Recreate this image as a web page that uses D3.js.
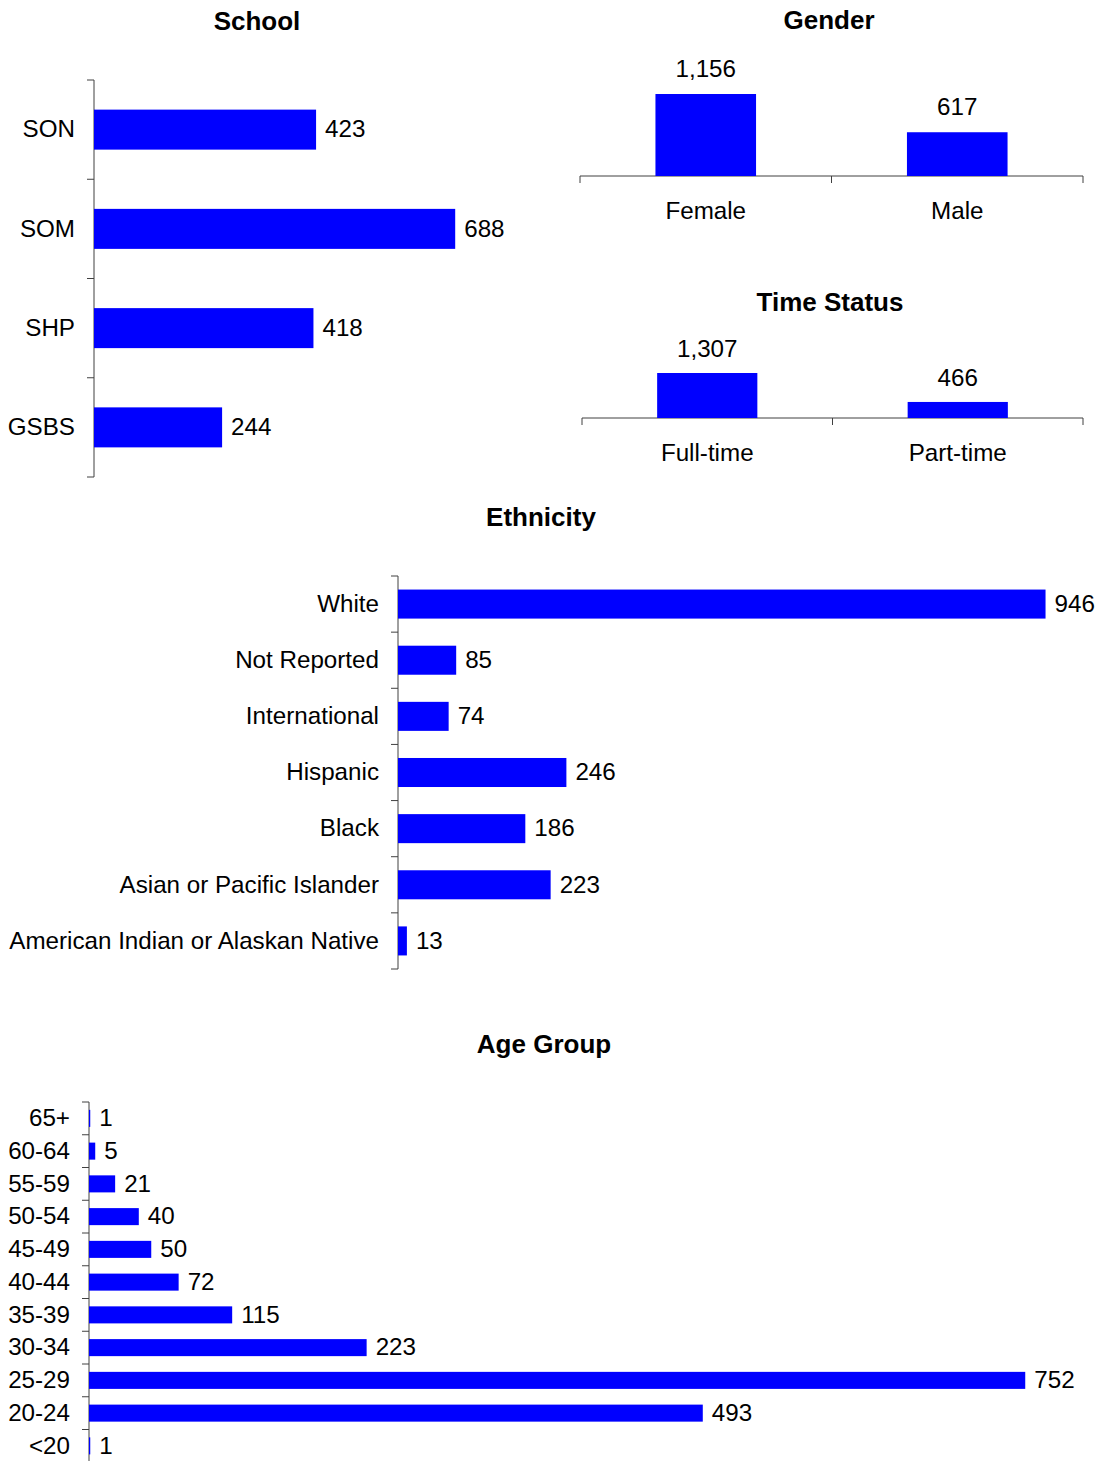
<!DOCTYPE html>
<html>
<head>
<meta charset="utf-8">
<script src="https://cdn.jsdelivr.net/npm/d3@7"></script>
<style>
  body { margin: 0; background: #fff; }
  svg text { font-family: "Liberation Sans", Arial, sans-serif; fill: #000; }
  .title { font-weight: bold; font-size: 26px; }
  .lbl { font-size: 24.2px; }
</style>
</head>
<body>
<svg id="chart" width="1099" height="1461"></svg>
<script>
// --- data ---
const schoolCats = ['SON', 'SOM', 'SHP', 'GSBS'];
const schoolVals = [423, 688, 418, 244];

const genderCats = ['Female', 'Male'];
const genderVals = [1156, 617];

const timeCats = ['Full-time', 'Part-time'];
const timeVals = [1307, 466];

const ethCats = ['White', 'Not Reported', 'International', 'Hispanic', 'Black',
                 'Asian or Pacific Islander', 'American Indian or Alaskan Native'];
const ethVals = [946, 85, 74, 246, 186, 223, 13];

const ageCats = ['65+', '60-64', '55-59', '50-54', '45-49', '40-44', '35-39',
                 '30-34', '25-29', '20-24', '<20'];
const ageVals = [1, 5, 21, 40, 50, 72, 115, 223, 752, 493, 1];

const svg = d3.select('#chart');
const axisColor = '#404040';
const fmt = d3.format(',');

function title(text, x, y) {
    svg.append('text').attr('class', 'title')
        .attr('x', x).attr('y', y).attr('text-anchor', 'middle').text(text);
}

// horizontal bar chart, categories on a left axis with ticks between bands
function hbar(cats, vals, o) {
    const g = svg.append('g');
    const y = d3.scaleBand().domain(cats).range([o.top, o.bottom])
        .paddingInner(o.pad).paddingOuter(o.pad / 2);
    const x = d3.scaleLinear().domain([0, o.max]).range([o.x0, o.x1]);

    // axis line + boundary ticks
    g.append('line').attr('x1', o.x0).attr('x2', o.x0)
        .attr('y1', o.top).attr('y2', o.bottom)
        .attr('stroke', axisColor);
    const bounds = d3.range(cats.length + 1).map(i => o.top + i * y.step());
    g.selectAll('.tk').data(bounds).enter().append('line')
        .attr('x1', o.x0 - 7).attr('x2', o.x0)
        .attr('y1', d => d).attr('y2', d => d)
        .attr('stroke', axisColor);

    g.selectAll('.bar').data(cats).enter().append('rect')
        .attr('x', x(0))
        .attr('y', d => y(d))
        .attr('width', (d, i) => x(vals[i]) - x(0))
        .attr('height', y.bandwidth())
        .attr('fill', '#0000ff');

    g.selectAll('.val').data(cats).enter().append('text').attr('class', 'lbl')
        .attr('x', (d, i) => x(vals[i]) + 9)
        .attr('y', d => y(d) + y.bandwidth() / 2)
        .attr('dy', '0.32em')
        .text((d, i) => fmt(vals[i]));

    g.selectAll('.cat').data(cats).enter().append('text').attr('class', 'lbl')
        .attr('x', o.x0 - 19)
        .attr('y', d => y(d) + y.bandwidth() / 2)
        .attr('dy', '0.32em')
        .attr('text-anchor', 'end')
        .text(d => d);
}

// vertical bar chart with a bottom axis, ticks between bands
function vbar(cats, vals, o) {
    const g = svg.append('g');
    const x = d3.scaleBand().domain(cats).range([o.x0, o.x1])
        .paddingInner(o.pad).paddingOuter(o.pad / 2);
    const y = d3.scaleLinear().domain([0, o.max]).range([o.base, o.base - o.h]);

    g.append('line').attr('x1', o.x0).attr('x2', o.x1)
        .attr('y1', o.base).attr('y2', o.base)
        .attr('stroke', axisColor);
    const bounds = d3.range(cats.length + 1).map(i => o.x0 + i * x.step());
    g.selectAll('.tk').data(bounds).enter().append('line')
        .attr('x1', d => d).attr('x2', d => d)
        .attr('y1', o.base).attr('y2', o.base + 7)
        .attr('stroke', axisColor);

    g.selectAll('.bar').data(cats).enter().append('rect')
        .attr('x', d => x(d))
        .attr('y', (d, i) => y(vals[i]))
        .attr('width', x.bandwidth())
        .attr('height', (d, i) => y(0) - y(vals[i]))
        .attr('fill', '#0000ff');

    g.selectAll('.val').data(cats).enter().append('text').attr('class', 'lbl')
        .attr('x', d => x(d) + x.bandwidth() / 2)
        .attr('y', (d, i) => y(vals[i]) - o.gap)
        .attr('text-anchor', 'middle')
        .text((d, i) => fmt(vals[i]));

    g.selectAll('.cat').data(cats).enter().append('text').attr('class', 'lbl')
        .attr('x', d => x(d) + x.bandwidth() / 2)
        .attr('y', o.base + 43)
        .attr('text-anchor', 'middle')
        .text(d => d);
}

title('School', 257, 30);
hbar(schoolCats, schoolVals, { top: 80, bottom: 477, x0: 94, x1: 514, max: 800, pad: 0.597 });

title('Gender', 829, 29);
vbar(genderCats, genderVals, { x0: 580, x1: 1083, base: 176, h: 99.3, max: 1400, pad: 0.6, gap: 17 });

title('Time Status', 830, 311);
vbar(timeCats, timeVals, { x0: 582, x1: 1083, base: 418, h: 48.2, max: 1400, pad: 0.6, gap: 16 });

title('Ethnicity', 541, 526);
hbar(ethCats, ethVals, { top: 576, bottom: 969, x0: 398, x1: 1082.5, max: 1000, pad: 0.483 });

title('Age Group', 544, 1053);
hbar(ageCats, ageVals, { top: 1102, bottom: 1462.25, x0: 89, x1: 1085, max: 800, pad: 0.48 });
</script>
</body>
</html>
